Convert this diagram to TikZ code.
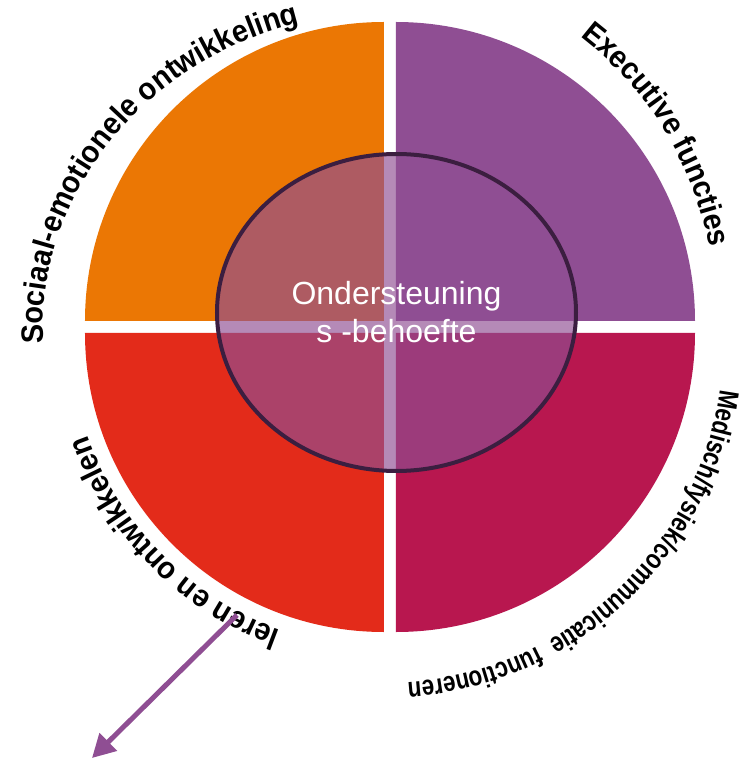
\documentclass[tikz,border=0pt]{standalone}
\usepackage{fontspec}
\setmainfont{Liberation Sans}
\newfontfamily\arcfont[FakeStretch=0.93]{Liberation Sans}
\newfontfamily\narrowarc[FakeStretch=0.8]{Liberation Sans}
\newcommand\grande{\arcfont\bfseries\fontsize{31}{31}\selectfont}
\newcommand\chico{\narrowarc\bfseries\fontsize{28}{28}\selectfont}
\usetikzlibrary{shapes.geometric,decorations.text,arrows.meta}
\definecolor{oranje}{HTML}{EB7704}
\definecolor{paars}{HTML}{8F4E93}
\definecolor{bordeaux}{HTML}{B8174F}
\definecolor{rood}{HTML}{E32B1A}
\definecolor{rand}{HTML}{3B1E40}

\begin{document}
\begin{tikzpicture}[x=1pt, y=1pt,
  arco/.style={decorate, decoration={text along path, text align=left, text={#1}}}]
  \fill[white] (-390,-444) rectangle (358,327);
  \useasboundingbox (-390,-444) rectangle (358,327);

  % Cuadrantes
  \fill[oranje] (-6,6) -- ++(180:299) arc[start angle=180, end angle=90, radius=299] -- cycle;
  \fill[paars] (6,6) -- ++(0:299) arc[start angle=0, end angle=90, radius=299] -- cycle;
  \fill[rood] (-6,-6) -- ++(180:299) arc[start angle=180, end angle=270, radius=299] -- cycle;
  \fill[bordeaux] (6,-6) -- ++(0:299) arc[start angle=0, end angle=-90, radius=299] -- cycle;

  % Nodo central
  \node[ellipse, draw=rand, line width=4pt, fill=paars, fill opacity=0.66, text opacity=1,
    text=white, minimum width=359pt, minimum height=317pt, inner sep=0pt, align=center,
    font=\fontsize{32}{38}\selectfont] (0) at (6.5,14.5) {Ondersteuning\\s -behoefte};

  % Textos
  \path[arco={|\grande|Sociaal-emotionele ontwikkeling}, shift={(0,-3)}]
    (182.5:347 and 318) arc[start angle=182.5, end angle=70, x radius=347, y radius=318];
  \path[arco={|\grande|Executive functies}, shift={(-20,17)}]
    (52.5:345) arc[start angle=52.5, end angle=-20, radius=345];
  \path[arco={|\chico|Medisch/fysiek/communicatie{\ \ }functioneren}, shift={(-5,-18)}]
    (-7.5:338) arc[start angle=-7.5, end angle=-110, radius=338];
  \path[arco={|\grande|leren en ontwikkelen}, shift={(0,-3)}]
    (250:320) arc[start angle=250, end angle=180, radius=320];

  % Flecha
  \coordinate (1) at (-153,-288);
  \coordinate (2) at (-298,-431);
  \draw[paars, line width=5pt, -{Triangle[length=23pt, width=24pt]}] (1) -- (2);
\end{tikzpicture}
\end{document}
